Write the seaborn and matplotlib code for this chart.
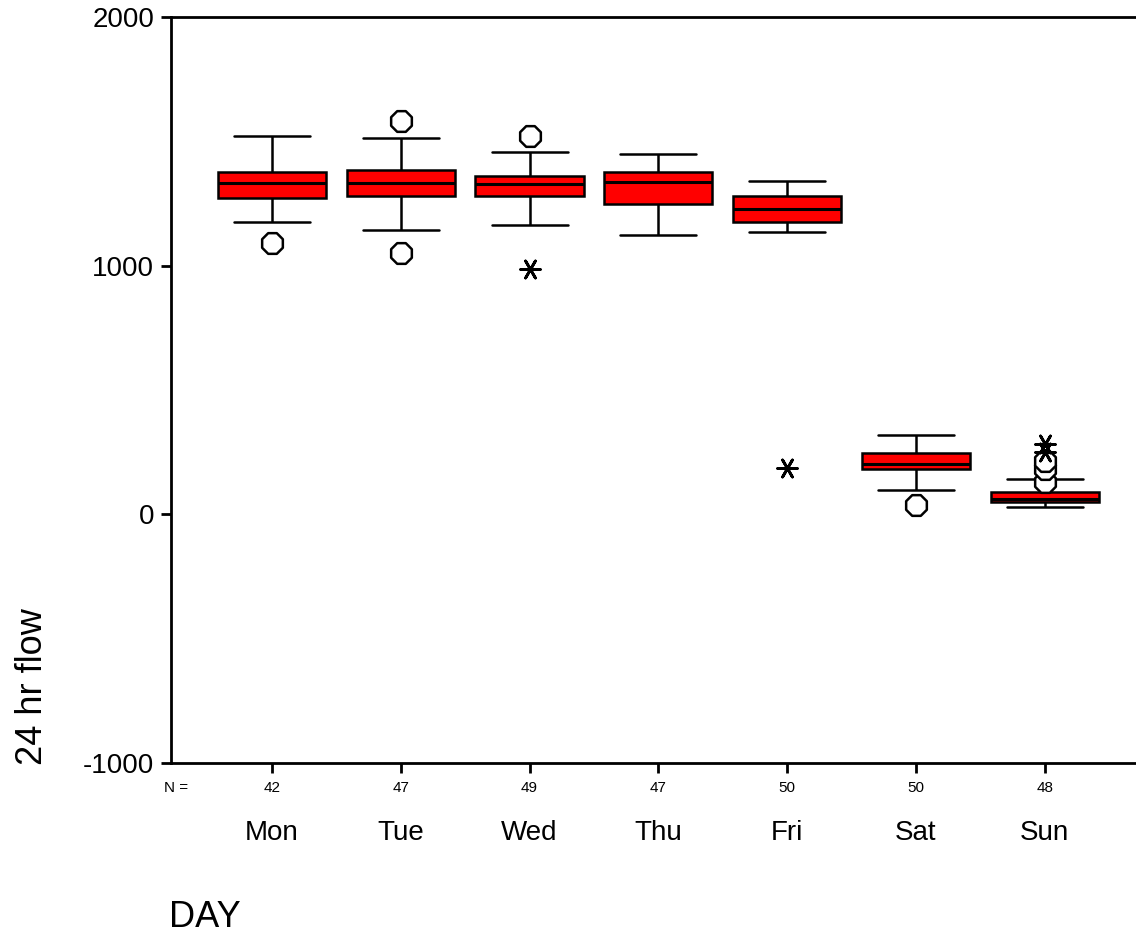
import numpy as np
import pandas as pd
import matplotlib
matplotlib.use("Agg")
import matplotlib.pyplot as plt
import seaborn as sns

# five-number summaries (24 hr flow by day)
days = ['Mon', 'Tue', 'Wed', 'Thu', 'Fri', 'Sat', 'Sun']
n_counts = [42, 47, 49, 47, 50, 50, 48]
whisk_lo = [1175, 1143, 1163, 1123, 1135, 97, 28]
q1 = [1272, 1280, 1280, 1247, 1175, 181, 48]
median = [1332, 1332, 1328, 1336, 1227, 201, 60]
q3 = [1376, 1384, 1360, 1376, 1280, 245, 89]
whisk_hi = [1521, 1513, 1457, 1449, 1340, 318, 141]

# outliers (circles) and extremes (asterisks)
out_days = ['Mon', 'Tue', 'Tue', 'Wed', 'Sat', 'Sun', 'Sun', 'Sun']
out_vals = [1090, 1581, 1050, 1521, 36, 129, 181, 213]
ext_days = ['Wed', 'Fri', 'Sun', 'Sun']
ext_vals = [986, 185, 249, 282]

sns.set_theme(style='ticks')
plt.rcParams['font.family'] = ['Liberation Sans', 'DejaVu Sans']
plt.rcParams['text.color'] = 'black'

rows = []
for i, d in enumerate(days):
    for v in (whisk_lo[i], q1[i], median[i], q3[i], whisk_hi[i]):
        rows.append((d, v))
df = pd.DataFrame(rows, columns=['day', 'flow'])

fig = plt.figure(figsize=(11.36, 9.38), dpi=100)
ax = fig.add_axes([0.1505, 0.1866, 0.8495, 0.7953])

sns.boxplot(data=df, x='day', y='flow', order=days, whis=np.inf, width=0.84,
            color='#ff0000', saturation=1, linecolor='black', linewidth=1.8,
            showfliers=False, medianprops=dict(linewidth=2.2), ax=ax)

# widen the whisker caps a bit (SPSS style)
for ln in ax.lines:
    xd = np.asarray(ln.get_xdata(), dtype=float)
    yd = np.asarray(ln.get_ydata(), dtype=float)
    if len(xd) == 2 and yd[0] == yd[1] and abs((xd[1] - xd[0]) - 0.42) < 0.01:
        c = xd.mean()
        ln.set_xdata([c - 0.295, c + 0.295])

pos = {d: i for i, d in enumerate(days)}
ax.scatter([pos[d] for d in out_days], out_vals, marker='8', s=260,
           facecolors='white', edgecolors='black', linewidths=1.8, zorder=5)
ax.scatter([pos[d] for d in ext_days], ext_vals, marker=(6, 2, 90), s=200,
           color='black', linewidths=2, zorder=6)

ax.set_xlim(-0.784, 6.708)
ax.set_ylim(-1000, 2000)
ax.set_yticks([-1000, 0, 1000, 2000])
ax.set_yticklabels(['-1000', '0', '1000', '2000'])
ax.set_xticks(range(len(days)))
ax.set_xticklabels(days)
ax.set_xlabel('')
ax.set_ylabel('')

for s in ['left', 'bottom', 'top']:
    ax.spines[s].set_visible(True)
    ax.spines[s].set_linewidth(2)
    ax.spines[s].set_color('black')
ax.spines['right'].set_visible(False)

ax.tick_params(axis='y', direction='out', length=7, width=2,
               pad=5, labelsize=20, color='black', labelcolor='black')
ax.tick_params(axis='x', direction='out', length=7, width=2,
               pad=34, labelsize=20, color='black', labelcolor='black')

trans = ax.get_xaxis_transform()
ax.text(-0.745, -0.034, 'N =', transform=trans, ha='center', va='center',
        fontsize=11, color='black', clip_on=False)
for i, n in enumerate(n_counts):
    ax.text(i, -0.034, str(n), transform=trans, ha='center', va='center',
            fontsize=11, color='black', clip_on=False)

fig.text(0.0285, 0.268, '24 hr flow', rotation=90, ha='center', va='center',
         fontsize=26, color='black')
fig.text(0.149, 0.012, 'DAY', ha='left', va='baseline', fontsize=26,
         color='black')

fig.savefig('out.png', dpi=100)
